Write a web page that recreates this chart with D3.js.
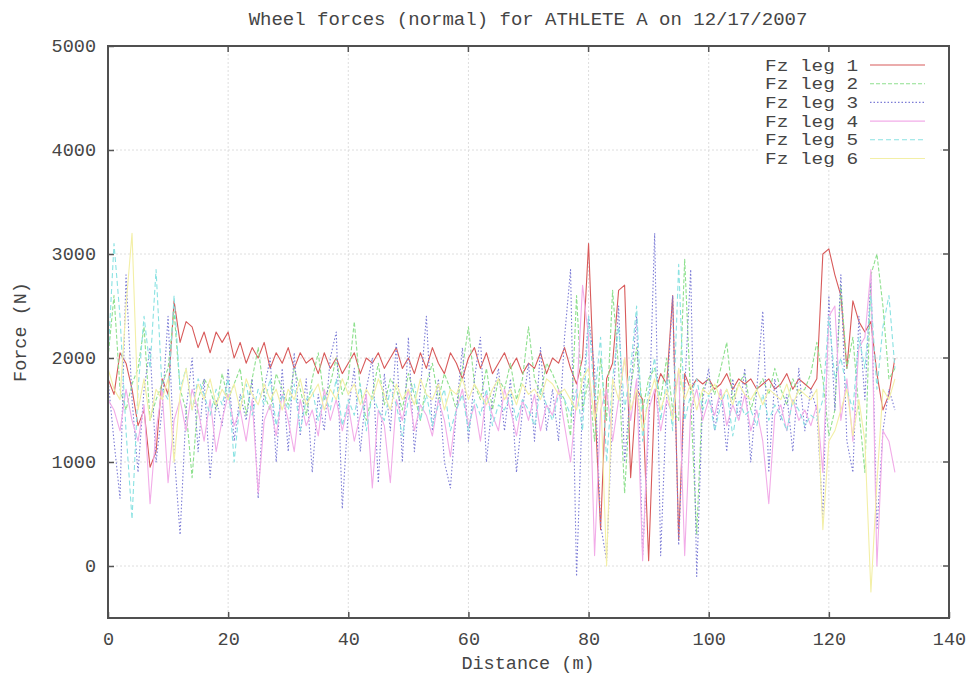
<!DOCTYPE html>
<html>
<head>
<meta charset="utf-8">
<script src="https://cdn.jsdelivr.net/npm/d3@7"></script>
<style>
html,body{margin:0;padding:0;background:#fff;}
svg{display:block;}
text{font-family:"Liberation Mono","DejaVu Sans Mono",monospace;fill:#454545;}
</style>
</head>
<body>
<svg id="chart" width="970" height="676"></svg>
<script>
const title = "Wheel forces (normal) for ATHLETE A on 12/17/2007";
const xLabel = "Distance (m)";
const yLabel = "Force (N)";
const xTicks = [0, 20, 40, 60, 80, 100, 120, 140];
const yTicks = [0, 1000, 2000, 3000, 4000, 5000];
const seriesNames = ["Fz leg 1", "Fz leg 2", "Fz leg 3", "Fz leg 4", "Fz leg 5", "Fz leg 6"];

const distance = [0,1,2,3,4,5,6,7,8,9,10,11,12,13,14,15,16,17,18,19,20,21,22,23,24,25,26,27,28,29,
30,31,32,33,34,35,36,37,38,39,40,41,42,43,44,45,46,47,48,49,50,51,52,53,54,55,56,57,58,59,
60,61,62,63,64,65,66,67,68,69,70,71,72,73,74,75,76,77,78,79,80,81,82,83,84,85,86,87,88,89,
90,91,92,93,94,95,96,97,98,99,100,101,102,103,104,105,106,107,108,109,110,111,112,113,114,115,116,117,118,119,
120,121,122,123,124,125,126,127,128,129,130,131];

const leg1 = [1800,1650,2050,1950,1700,1350,1500,950,1100,1800,
1650,2550,2150,2350,2300,2100,2250,2050,2250,2150,
2250,2000,2150,1950,2100,2000,2150,1900,2050,1950,
2100,1900,2050,1950,2000,1850,2050,1900,2000,1850,
1950,2050,1850,2000,1950,2050,1900,2000,2100,1900,
2000,1850,2050,1900,2100,1950,1850,2050,1950,1800,
2000,2100,1900,2050,1850,1950,2050,1900,2000,1850,
1950,1900,2050,1850,2000,1950,2100,1900,1750,2000,
3100,1600,350,1800,1950,2650,2700,850,1700,1600,
50,1650,1850,1750,2600,250,1850,1700,1800,1750,
1800,1700,1750,1850,1700,1800,1750,1800,1700,1750,
1800,1700,1750,1850,1700,1800,1750,1700,1800,3000,
3050,2800,2600,1900,2550,2350,2250,2350,1850,1500,
1650,2000];

const leg2 = [2000,2600,1700,1500,1750,1900,2300,1400,1600,1750,
1900,2450,1700,1500,850,1600,1800,1700,1500,1850,
1600,1750,1900,1450,1800,2100,1650,1500,1850,1700,
1550,1900,1700,1450,1800,2050,1600,1750,2000,1650,
1800,2350,1700,1400,1650,1950,1550,1800,1700,1500,
1850,1650,1400,1750,1950,1600,1850,1700,1500,1900,
2300,1750,1600,1900,1500,1800,1700,1950,1600,1800,
2300,1800,1650,1950,1850,1700,1600,1250,2600,1500,
1800,1200,2000,1400,2650,1900,700,1700,2100,1500,
1800,1900,1600,2000,1500,1400,2950,1600,300,1700,
1800,1650,1900,2150,1600,1750,1850,1500,1700,1800,
1650,1900,1700,1550,1800,1650,1700,1850,2150,1800,
1250,1500,2700,1900,2200,1500,900,2800,3000,2500,
1800,1900];

const leg3 = [1800,1200,650,2800,1600,900,1700,2100,1000,1500,
2400,1100,300,1500,2000,1100,1800,850,1600,1350,
1900,1200,1650,1400,1800,650,1700,2000,1000,1900,
1100,2050,1250,1800,900,1650,1300,2000,2250,550,
1500,1900,1100,1700,2000,800,1850,1300,2150,1000,
2200,1100,1700,2400,1300,1800,1000,750,1500,2100,
1200,1800,2200,1000,1600,1900,1300,1800,900,1500,
1950,1200,2100,1300,1700,1200,2200,2850,-100,1600,
2400,1900,400,50,1500,2500,1000,1700,2400,100,
1300,3200,100,1600,2600,200,1700,2850,-100,1600,
1900,1300,1700,1100,1800,1400,1900,1000,1700,2450,
900,1800,1400,1650,1100,1900,1300,1700,1500,450,
2600,1500,2800,1200,900,2400,1600,2800,350,1300,
1700,1500];

const leg4 = [1600,1500,1300,1700,1400,1200,1550,600,1300,1700,
800,1400,1600,1300,1700,1500,1200,1600,1100,1400,
1650,1350,1500,1200,1600,700,1400,1550,1250,1650,
1400,1100,1600,1350,1500,1250,1700,1400,1600,1300,
1550,1200,1450,1650,750,1500,1350,800,1600,1400,
1700,1300,1550,1450,1250,1600,1400,1050,1500,1700,
1350,1550,1200,1650,1450,1300,1700,1500,1250,1600,
1400,1650,1300,1550,1450,1700,1350,1000,1600,2700,
2200,100,1500,1700,1200,1600,2000,1400,1800,50,
1500,1700,1300,1600,1450,1900,100,1500,1700,1400,
1600,1450,1700,1350,1550,1400,1650,1300,1500,1200,
600,1450,1550,1300,1600,1400,1500,1350,1550,900,
2400,2500,1400,1800,1200,2100,2200,2850,0,1300,
1200,900];

const leg5 = [2000,3100,2400,1300,450,1700,2400,1900,2850,1700,
1600,2600,1700,1900,1500,1800,1650,1450,1700,1550,
1800,1000,1600,1750,1450,1700,1550,1800,1350,1650,
1500,1750,1300,1600,1700,1400,1650,1500,1800,1350,
1600,1450,1750,1300,1650,1500,1400,1700,1550,1250,
1600,1750,1400,1650,1350,1550,1700,1300,1500,1650,
1300,1600,1450,1700,1350,1550,1500,1650,1400,1600,
1500,1350,1700,1550,1400,1650,1600,1450,1700,1300,
2400,1600,2200,1000,1800,2300,1500,1900,2500,1200,
1700,2000,1400,1800,1300,2900,1400,1650,1800,1500,
1650,1300,1550,1700,1250,1600,1450,1500,1350,1650,
1400,1550,1450,1300,1600,1500,1350,1450,1400,1600,
2400,1800,2000,1700,1500,2200,1900,2600,1700,2300,
2600,1900];

const leg6 = [1900,1700,1600,2500,3200,1500,1800,1400,1700,1600,
1800,1000,1650,1900,1500,1750,1600,1800,1550,1700,
1600,1750,1500,1800,1650,1550,1750,1600,1700,1500,
1700,1600,1800,1550,1650,1750,1500,1700,1600,1800,
1650,1750,1550,1700,1600,1800,1650,1500,1750,1600,
1700,1550,1800,1650,1600,1750,1500,1700,1650,1800,
1600,1750,1650,1550,1700,1800,1600,1700,1550,1750,
1650,1700,1600,1800,1750,1650,1700,1600,1500,1800,
1900,1400,1700,0,1800,1600,2000,1500,1700,1300,
1600,1800,1500,1700,1400,1900,1600,1750,1500,1700,
1650,1750,1600,1700,1550,1750,1650,1600,1700,1550,
1700,1650,1600,1750,1550,1700,1650,1600,1700,350,
1200,1300,1500,1700,1250,1600,1200,-250,800,1700,
1600,1800];

const seriesValues = [leg1, leg2, leg3, leg4, leg5, leg6];
const colors = ["#d85a5a", "#8ee08e", "#7c7cd6", "#f2ace8", "#8ae2e2", "#f3efa6"];
const dashes = [null, "4,2", "1.5,2", null, "5,3", null];

const svg = d3.select("#chart");
const L = 108, R = 949, T = 46, B = 618;
const x = d3.scaleLinear().domain([0, 140]).range([L, R]);
const y = d3.scaleLinear().domain([-500, 5000]).range([B, T]);

// grid
const grid = svg.append("g");
grid.selectAll("line.gx").data(xTicks.slice(1, -1)).enter().append("line")
  .attr("x1", d => x(d)).attr("x2", d => x(d)).attr("y1", T).attr("y2", B)
  .attr("stroke", "#dedede").attr("stroke-width", 1).attr("stroke-dasharray", "2,2");
grid.selectAll("line.gy").data(yTicks.slice(0, -1)).enter().append("line")
  .attr("x1", L).attr("x2", R).attr("y1", d => y(d)).attr("y2", d => y(d))
  .attr("stroke", "#dedede").attr("stroke-width", 1).attr("stroke-dasharray", "2,2");

// axes via d3
const fontSize = "18.5px";
const xAxis = svg.append("g").attr("transform", `translate(0,${B})`)
  .call(d3.axisBottom(x).tickValues(xTicks).tickSize(-6).tickPadding(14).tickFormat(d3.format("d")));
const yAxis = svg.append("g").attr("transform", `translate(${L},0)`)
  .call(d3.axisLeft(y).tickValues(yTicks).tickSize(-6).tickPadding(12).tickFormat(d3.format("d")));
[xAxis, yAxis].forEach(a => {
  a.select(".domain").remove();
  a.selectAll(".tick line").attr("stroke", "#555").attr("stroke-width", 1.5);
  a.selectAll(".tick text").style("font-size", fontSize).attr("fill", "#454545")
    .style("font-family", "'Liberation Mono', monospace");
});
// mirror ticks top/right
svg.append("g").selectAll("line").data(xTicks).enter().append("line")
  .attr("x1", d => x(d)).attr("x2", d => x(d)).attr("y1", T).attr("y2", T + 6)
  .attr("stroke", "#555").attr("stroke-width", 1.5);
svg.append("g").selectAll("line").data(yTicks).enter().append("line")
  .attr("x1", R - 6).attr("x2", R).attr("y1", d => y(d)).attr("y2", d => y(d))
  .attr("stroke", "#555").attr("stroke-width", 1.5);

// lines
svg.append("clipPath").attr("id", "clip").append("rect")
  .attr("x", L).attr("y", T).attr("width", R - L).attr("height", B - T);
const lineGen = vals => d3.line().x((d, i) => x(distance[i])).y(d => y(d))(vals);
const plot = svg.append("g").attr("clip-path", "url(#clip)");
seriesValues.forEach((vals, k) => {
  plot.append("path").attr("d", lineGen(vals)).attr("fill", "none")
    .attr("stroke", colors[k]).attr("stroke-width", 1.1)
    .attr("stroke-dasharray", dashes[k]).attr("stroke-linejoin", "round");
});

// legend
const leg = svg.append("g");
leg.append("rect").attr("x", 758).attr("y", 54).attr("width", 180).attr("height", 116).attr("fill", "#fff");
seriesNames.forEach((name, k) => {
  const yy = 65 + k * 18.7;
  leg.append("text").attr("x", 858).attr("y", yy).attr("dy", "0.35em")
    .attr("text-anchor", "end").style("font-size", "16px")
    .attr("textLength", 93).attr("lengthAdjust", "spacingAndGlyphs").text(name);
  leg.append("line").attr("x1", 870).attr("x2", 925).attr("y1", yy).attr("y2", yy)
    .attr("stroke", colors[k]).attr("stroke-width", 1.1).attr("stroke-dasharray", dashes[k]);
});

// frame
svg.append("rect").attr("x", L).attr("y", T).attr("width", R - L).attr("height", B - T)
  .attr("fill", "none").attr("stroke", "#505050").attr("stroke-width", 2);

// titles
svg.append("text").attr("x", 528).attr("y", 18).attr("dy", "0.35em").attr("text-anchor", "middle")
  .style("font-size", "19px").text(title);
svg.append("text").attr("x", 528).attr("y", 663).attr("dy", "0.35em").attr("text-anchor", "middle")
  .style("font-size", fontSize).text(xLabel);
svg.append("text").attr("transform", "translate(20,332) rotate(-90)").attr("dy", "0.35em")
  .attr("text-anchor", "middle").style("font-size", fontSize).text(yLabel);
</script>
</body>
</html>
